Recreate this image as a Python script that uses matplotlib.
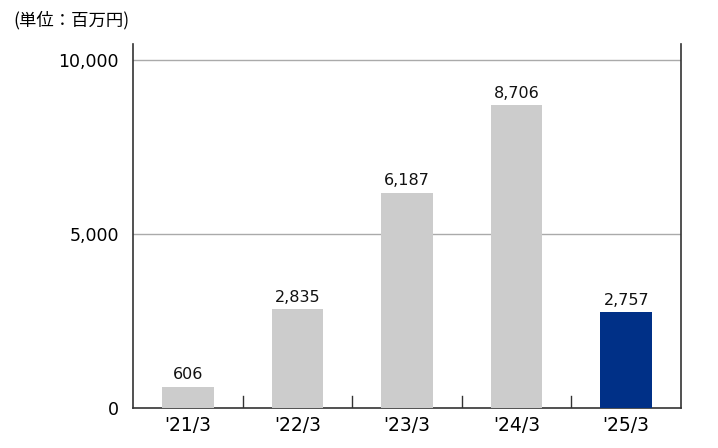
import numpy as np
import matplotlib.pyplot as plt

plt.rcParams['font.family'] = ['Noto Sans CJK JP', 'DejaVu Sans']
num_font = ['DejaVu Sans']

# data
categories = ["'21/3", "'22/3", "'23/3", "'24/3", "'25/3"]
values = [606, 2835, 6187, 8706, 2757]
bar_colors = ['#cccccc', '#cccccc', '#cccccc', '#cccccc', '#003087']

fig = plt.figure(figsize=(7.18, 4.48), dpi=100)
ax = fig.add_axes([0.1852, 0.0893, 0.7633, 0.8125])

x = np.arange(len(categories))
ax.bar(x, values, width=0.47, color=bar_colors, zorder=3)

for xi, v in zip(x, values):
    ax.text(xi, v + 130, f'{v:,}', ha='center', va='bottom', fontsize=11.5,
            color='#111111', family=num_font)

ax.set_xlim(-0.5, len(categories) - 0.5)
ax.set_ylim(0, 10460)

ax.set_yticks([0, 5000, 10000])
ax.set_yticklabels(['0', '5,000', '10,000'], fontsize=12.5, family=num_font)
ax.tick_params(axis='y', length=0, pad=10)
for yv in [5000, 10000]:
    ax.axhline(yv, color='#aaaaaa', linewidth=1, zorder=1)

# category labels, boundary ticks pointing inward
ax.set_xticks(x)
ax.set_xticklabels(categories, fontsize=13.5, family=num_font)
ax.tick_params(axis='x', length=0, pad=6)
for b in np.arange(0.5, len(categories) - 0.5, 1):
    ax.plot([b, b], [0, 350], color='#333333', linewidth=1, zorder=4)

ax.spines['top'].set_visible(False)
for s in ['left', 'right', 'bottom']:
    ax.spines[s].set_color('#333333')
    ax.spines[s].set_linewidth(1.2)

fig.text(0.018, 0.955, '(単位：百万円)', fontsize=12.5, ha='left', va='center')

fig.savefig('out.png', dpi=100)
